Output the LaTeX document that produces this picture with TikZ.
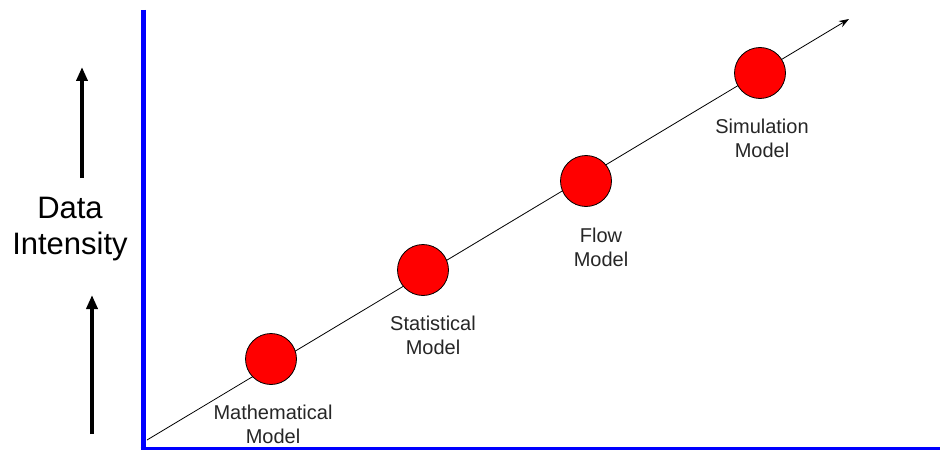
\documentclass[tikz,border=0pt]{standalone}
\usepackage{fontspec}
\setmainfont{Liberation Sans}
\usetikzlibrary{arrows.meta}
\begin{document}
\begin{tikzpicture}[x=1pt,y=-1pt,
  ball/.style={circle,draw=black,line width=0.8pt,fill=red,minimum size=51pt,inner sep=0pt},
  lbl/.style={align=center,font=\fontsize{20}{24}\selectfont,text=black!85,inner sep=0pt},
  bigarrow/.style={line width=3.5pt,-{Triangle[length=14pt,width=11pt]}},
  axis/.style={draw=blue,line width=#1}]
\useasboundingbox (0,0) rectangle (951,452);
% axes
\coordinate (ytop) at (143,10);
\coordinate (orig) at (143,448);
\coordinate (xend) at (940,448);
\draw[axis=5pt] (ytop) -- (143,446.5);
\draw[axis=3pt] (140.5,448) -- (xend);
% data intensity
\node[font=\fontsize{31}{36}\selectfont,align=center,inner sep=0pt] (di) at (70,229) {Data\\Intensity};
\coordinate (a1s) at (82,178);
\coordinate (a1e) at (82,67);
\coordinate (a2s) at (92,434);
\coordinate (a2e) at (92,295);
\draw[bigarrow] (a1s) -- (a1e);
\draw[bigarrow] (a2s) -- (a2e);
% diagonal
\coordinate (ds) at (147,440);
\coordinate (de) at (849,19);
\draw[line width=0.8pt,-{Stealth[length=10pt,width=7pt]}] (ds) -- (de);
% balls
\node[ball] (m1) at (271,359) {};
\node[ball] (m2) at (423,270) {};
\node[ball] (m3) at (586,181) {};
\node[ball] (m4) at (760,73) {};
\node[lbl] (l1) at (273,424) {Mathematical\\Model};
\node[lbl] (l2) at (433,335) {Statistical\\Model};
\node[lbl] (l3) at (601,247) {Flow\\Model};
\node[lbl] (l4) at (762,138) {Simulation\\Model};
\end{tikzpicture}
\end{document}
